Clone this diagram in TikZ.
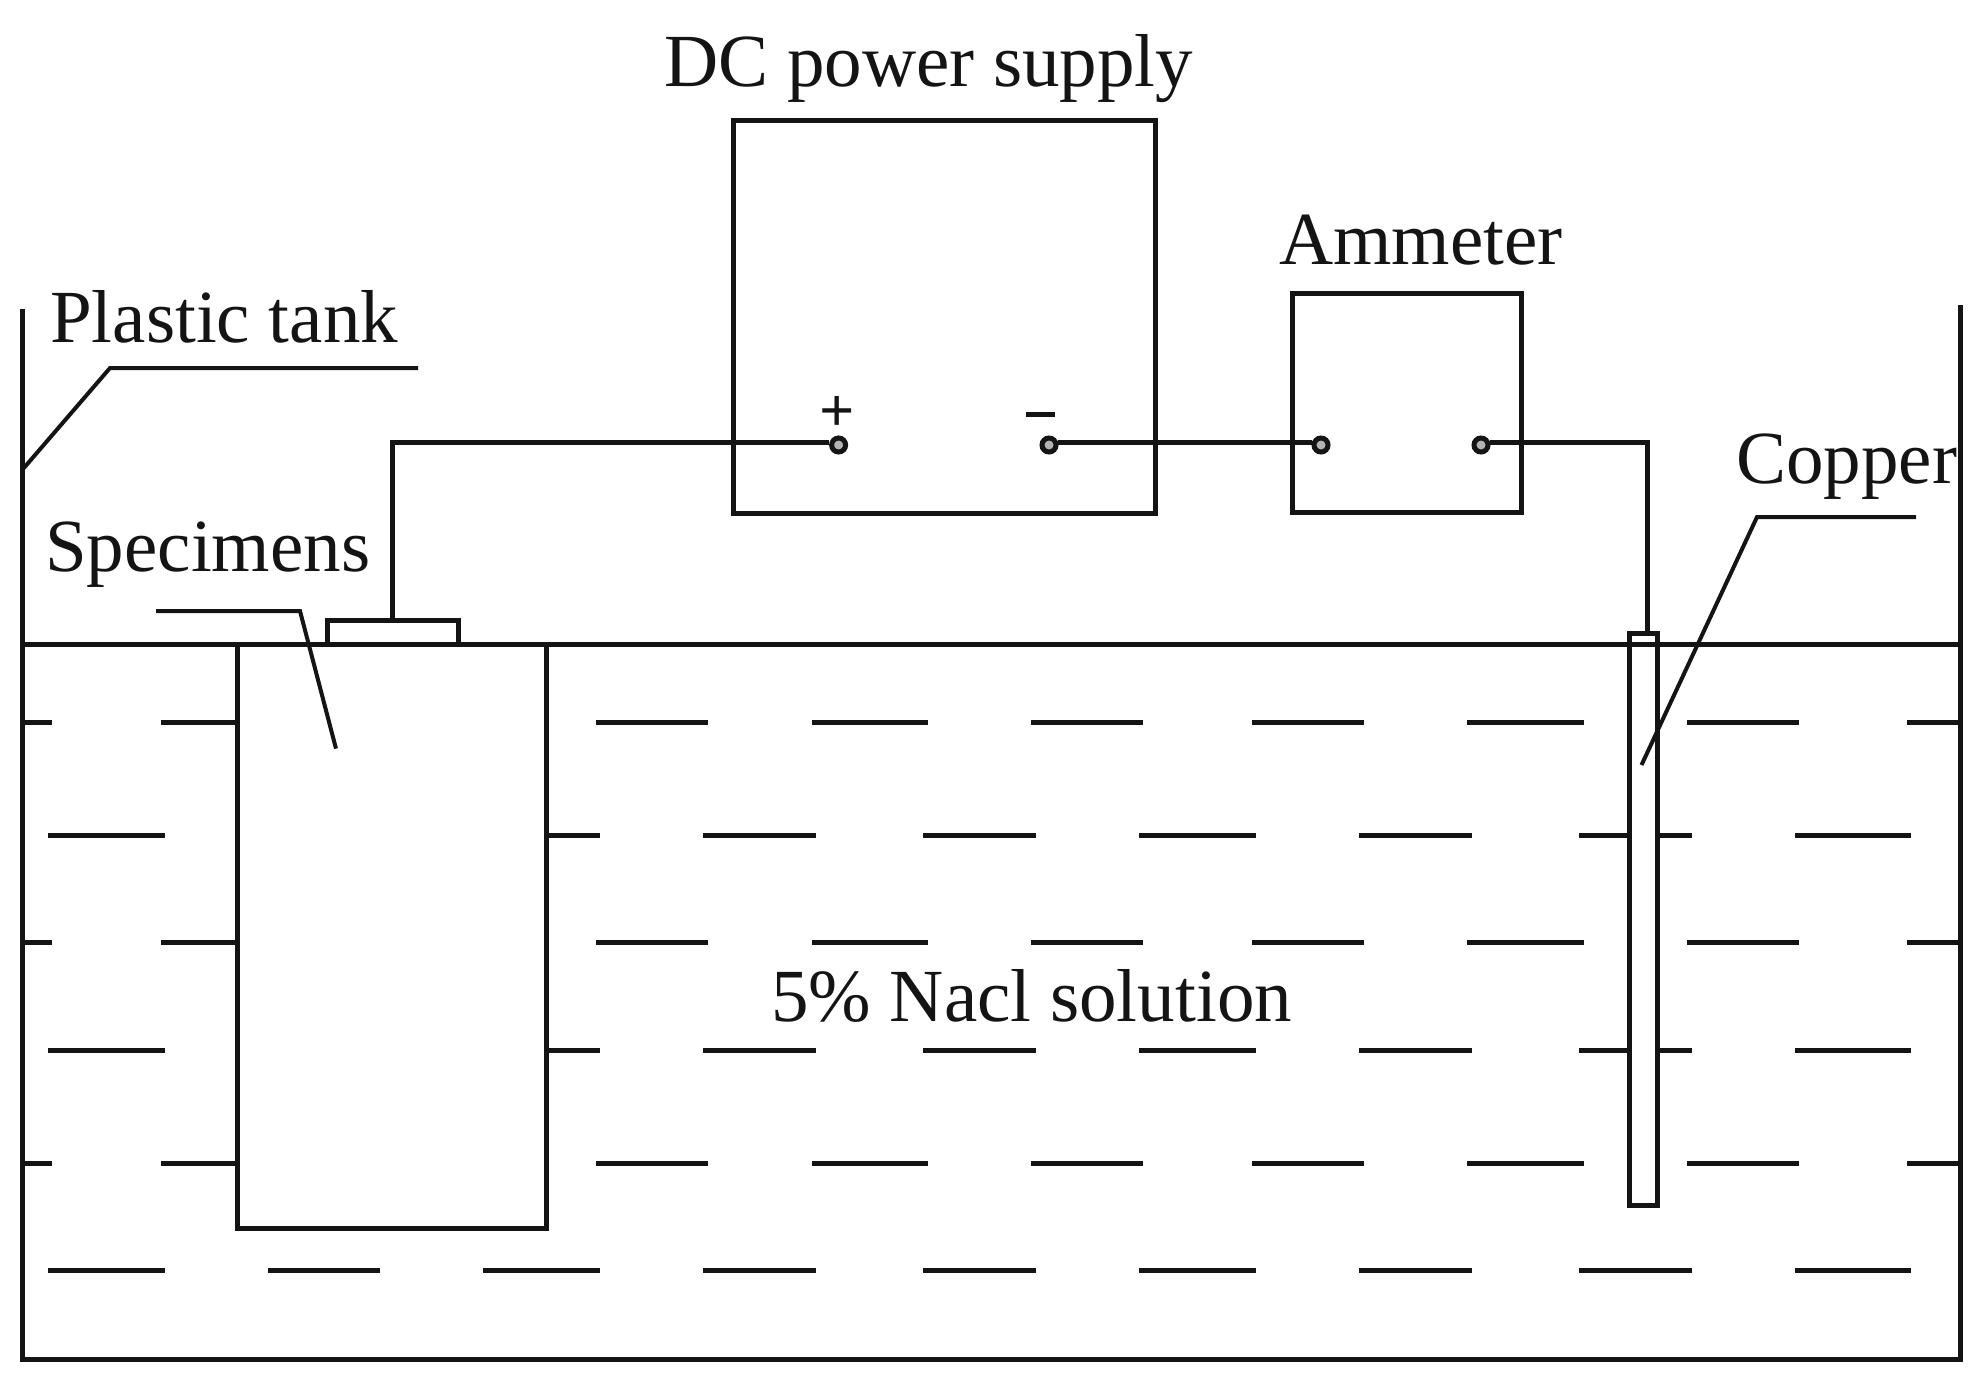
\documentclass[tikz,border=0pt]{standalone}
\usepackage{fontspec}
\setmainfont{Liberation Serif}
\definecolor{ink}{HTML}{141414}
\tikzset{
  line/.style={draw=ink,line width=5pt,line cap=butt,line join=miter},
  thin line/.style={draw=ink,line width=4pt,line cap=butt,line join=miter},
  box/.style={line,inner sep=0pt,outer sep=0pt,anchor=north west},
  term/.style={circle,draw=ink,line width=5pt,fill=white!70!black,minimum size=14pt,inner sep=0pt},
  label/.style={text=ink,inner sep=0pt,anchor=base west,font=\fontsize{75}{80}\selectfont},
  sign/.style={inner sep=0pt,text=ink},
}
\begin{document}
\begin{tikzpicture}[x=1pt,y=-1pt]
\useasboundingbox (0,0) rectangle (1986,1381);
% dashes
\foreach \y in {722.6,942.7,1163}{
  \foreach \a/\b in {22/52,161/237,596/708,812/928,1031/1143,1252/1364,1467/1584,1687/1799,1907/1960}
    \draw[line] (\a,\y) -- (\b,\y);
}
\foreach \y in {835.5,1050}{
  \foreach \a/\b in {48/165,547/600,703/816,923/1036,1139/1256,1359/1472,1579/1692,1795/1911}
    \draw[line] (\a,\y) -- (\b,\y);
}
\foreach \a/\b in {48/165,268/380,483/600,703/816,923/1036,1139/1256,1359/1472,1579/1692,1795/1911}
  \draw[line] (\a,1270) -- (\b,1270);
% tank and water
\coordinate (tankTL) at (22.5,309);
\coordinate (tankBL) at (22.5,1359);
\coordinate (tankBR) at (1960,1359);
\coordinate (tankTR) at (1960,305);
\draw[line] (tankTL) -- (tankBL) -- (tankBR) -- (tankTR);
% boxes
\node[box,fill=white,minimum width=309.5pt,minimum height=584pt] (spec) at (237,644) {};
\node[box,minimum width=131pt,minimum height=23.5pt] (plate) at (327,620.5) {};
\node[box,fill=white,minimum width=28pt,minimum height=572pt] (copper) at (1629,633) {};
\node[box,minimum width=421.5pt,minimum height=393.5pt] (dc) at (733.5,120) {};
\node[box,minimum width=229pt,minimum height=219pt] (amm) at (1292,293) {};
\coordinate (waterL) at (22.5,644);
\coordinate (waterR) at (1960,644);
\draw[line] (waterL) -- (waterR);
% terminals
\node[term] (tp) at (838.6,445) {};
\node[term] (tm) at (1049,445) {};
\node[term] (ta) at (1321,445) {};
\node[term] (tb) at (1481,445) {};
\node[sign,font=\bfseries\fontsize{62}{62}\selectfont] (plus) at (837,414) {+};
% wires
\coordinate (drop) at ([xshift=4pt]copper.north);
\draw[line] (tp.165) -- (plate.north |- tp.165) -- (plate.north);
\draw[line] (tm.15) -- (ta.165);
\draw[line] (tb.15) -- (drop |- tb.15) -- (drop);
\node[sign,fill=ink,minimum width=29pt,minimum height=5pt] (minus) at (1040.5,414) {};
% labels
\node[label] (lDC) at (664,86) {DC power supply};
\node[label] (lAm) at (1279,264) {Ammeter};
\node[label] (lPl) at (50,342) {Plastic tank};
\node[label] (lSp) at (45,571) {Specimens};
\node[label] (lCu) at (1736,483) {Copper};
\node[label] (lNa) at (771,1021) {5\% Nacl solution};
% leaders
\coordinate (pa) at (418,368);
\coordinate (pb) at (110,368);
\coordinate (pc) at (23,469);
\draw[thin line] (pa) -- (pb) -- (pc);
\coordinate (sa) at (156,611);
\coordinate (sb) at (300,611);
\coordinate (sc) at (336,748.6);
\draw[thin line] (sa) -- (sb) -- (sc);
\coordinate (ca) at (1916,517);
\coordinate (cb) at (1757,517);
\coordinate (cc) at (1641.5,765);
\draw[thin line] (ca) -- (cb) -- (cc);
\end{tikzpicture}
\end{document}
